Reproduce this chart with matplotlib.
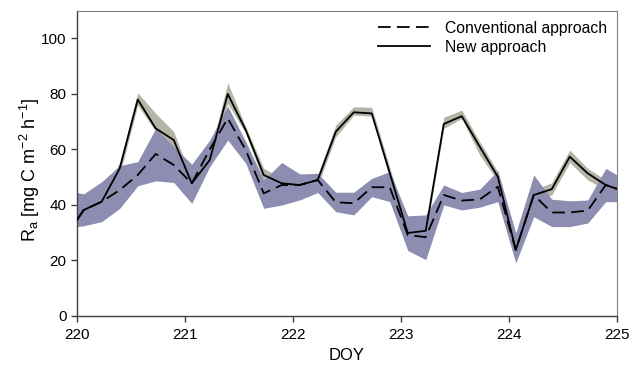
import numpy as np
import matplotlib
matplotlib.use("Agg")
import matplotlib.pyplot as plt

plt.rcParams['font.family'] = ['Liberation Sans', 'DejaVu Sans']

# time points (DOY): start at the axis edge, then 4-hourly values, then the end edge
doy = [220.0, 220.0625, 220.229, 220.396, 220.5625, 220.729, 220.896,
       221.0625, 221.229, 221.396, 221.5625, 221.729, 221.896,
       222.0625, 222.229, 222.396, 222.5625, 222.729, 222.896,
       223.0625, 223.229, 223.396, 223.5625, 223.729, 223.896,
       224.0625, 224.229, 224.396, 224.5625, 224.729, 224.896, 225.0]

conventional = [34.6, 38.2, 41.2, 45.4, 50.8, 58.4, 54.4,
                47.8, 60.0, 71.2, 59.8, 44.2, 47.2,
                47.2, 49.0, 41.0, 40.6, 46.4, 46.4,
                29.2, 28.4, 43.6, 41.6, 42.0, 46.6,
                23.8, 43.6, 37.3, 37.3, 38.0, 47.2, 45.8]

new = [34.6, 38.2, 41.2, 53.2, 78.0, 67.6, 63.4,
       47.8, 56.2, 80.0, 67.0, 50.8, 47.8,
       47.2, 49.0, 66.4, 73.4, 73.0, 51.5,
       29.9, 30.7, 69.2, 72.0, 61.0, 50.2,
       23.8, 43.6, 45.7, 57.4, 51.4, 47.2, 45.8]

conv_hi = [44.5, 44.0, 48.4, 54.2, 55.6, 67.6, 61.0,
           54.7, 63.4, 75.6, 62.8, 49.0, 55.3,
           51.2, 51.4, 44.6, 44.6, 49.6, 52.0,
           36.1, 36.4, 47.2, 44.5, 45.7, 52.4,
           29.9, 50.8, 42.1, 41.5, 41.8, 53.2, 50.8]
conv_lo = [32.2, 32.5, 34.0, 38.8, 46.9, 48.7, 48.1,
           40.6, 53.8, 63.4, 55.0, 38.8, 40.0,
           41.8, 44.5, 37.6, 36.4, 43.0, 41.2,
           23.6, 20.3, 40.0, 38.2, 39.2, 41.2,
           19.1, 35.8, 32.2, 32.2, 33.5, 41.2, 41.2]

new_hi = [36.0, 40.0, 43.0, 55.5, 80.4, 73.0, 66.4,
          49.5, 58.5, 84.0, 68.2, 53.2, 49.5,
          49.0, 51.0, 68.8, 75.4, 75.2, 53.5,
          31.5, 32.5, 71.6, 74.2, 62.8, 52.0,
          25.5, 45.5, 48.0, 59.8, 53.2, 49.0, 47.5]
new_lo = [33.0, 36.5, 39.5, 51.0, 76.0, 66.4, 59.8,
          46.0, 54.0, 76.6, 65.8, 48.4, 46.0,
          45.5, 47.0, 64.6, 72.4, 72.0, 49.5,
          28.0, 29.0, 67.6, 71.2, 58.0, 48.5,
          22.0, 42.0, 43.6, 55.3, 49.0, 45.5, 44.0]

xticks = [220, 221, 222, 223, 224, 225]
yticks = [0, 20, 40, 60, 80, 100]

fig = plt.figure(figsize=(6.32, 3.70), dpi=100)
ax = fig.add_axes([0.1218, 0.146, 0.8545, 0.825])

ax.fill_between(doy, new_lo, new_hi, color='#b4b5a6', lw=0, zorder=1)
ax.fill_between(doy, conv_lo, conv_hi, color='#8d8db1', lw=0, zorder=2)
ax.plot(doy, conventional, color='black', lw=1.3, linestyle=(0, (7, 3.5)),
        label='Conventional approach', zorder=3)
ax.plot(doy, new, color='black', lw=1.3, label='New approach', zorder=4)

ax.set_xlim(220, 225)
ax.set_ylim(0, 110)
ax.set_xticks(xticks)
ax.set_yticks(yticks)
ax.tick_params(axis='both', direction='out', length=4, width=1, labelsize=11,
               color='#404040')
ax.tick_params(axis='x', pad=5)
for side in ['left', 'bottom']:
    ax.spines[side].set_color('#404040')
    ax.spines[side].set_linewidth(1.0)
for side in ['top', 'right']:
    ax.spines[side].set_color('#808080')
    ax.spines[side].set_linewidth(0.8)

ax.set_xlabel('DOY', fontsize=12, labelpad=4)
ax.set_ylabel(r'R$_\mathregular{a}$ [mg C m$^\mathregular{-2}$ h$^\mathregular{-1}$]',
              fontsize=13)
ax.yaxis.set_label_coords(-0.064, 0.48)

leg = ax.legend(loc='upper right', frameon=False, fontsize=11.3,
                handlelength=3.3, handletextpad=0.95, labelspacing=0.25,
                borderaxespad=0.25)

fig.savefig('out.png', dpi=100)
